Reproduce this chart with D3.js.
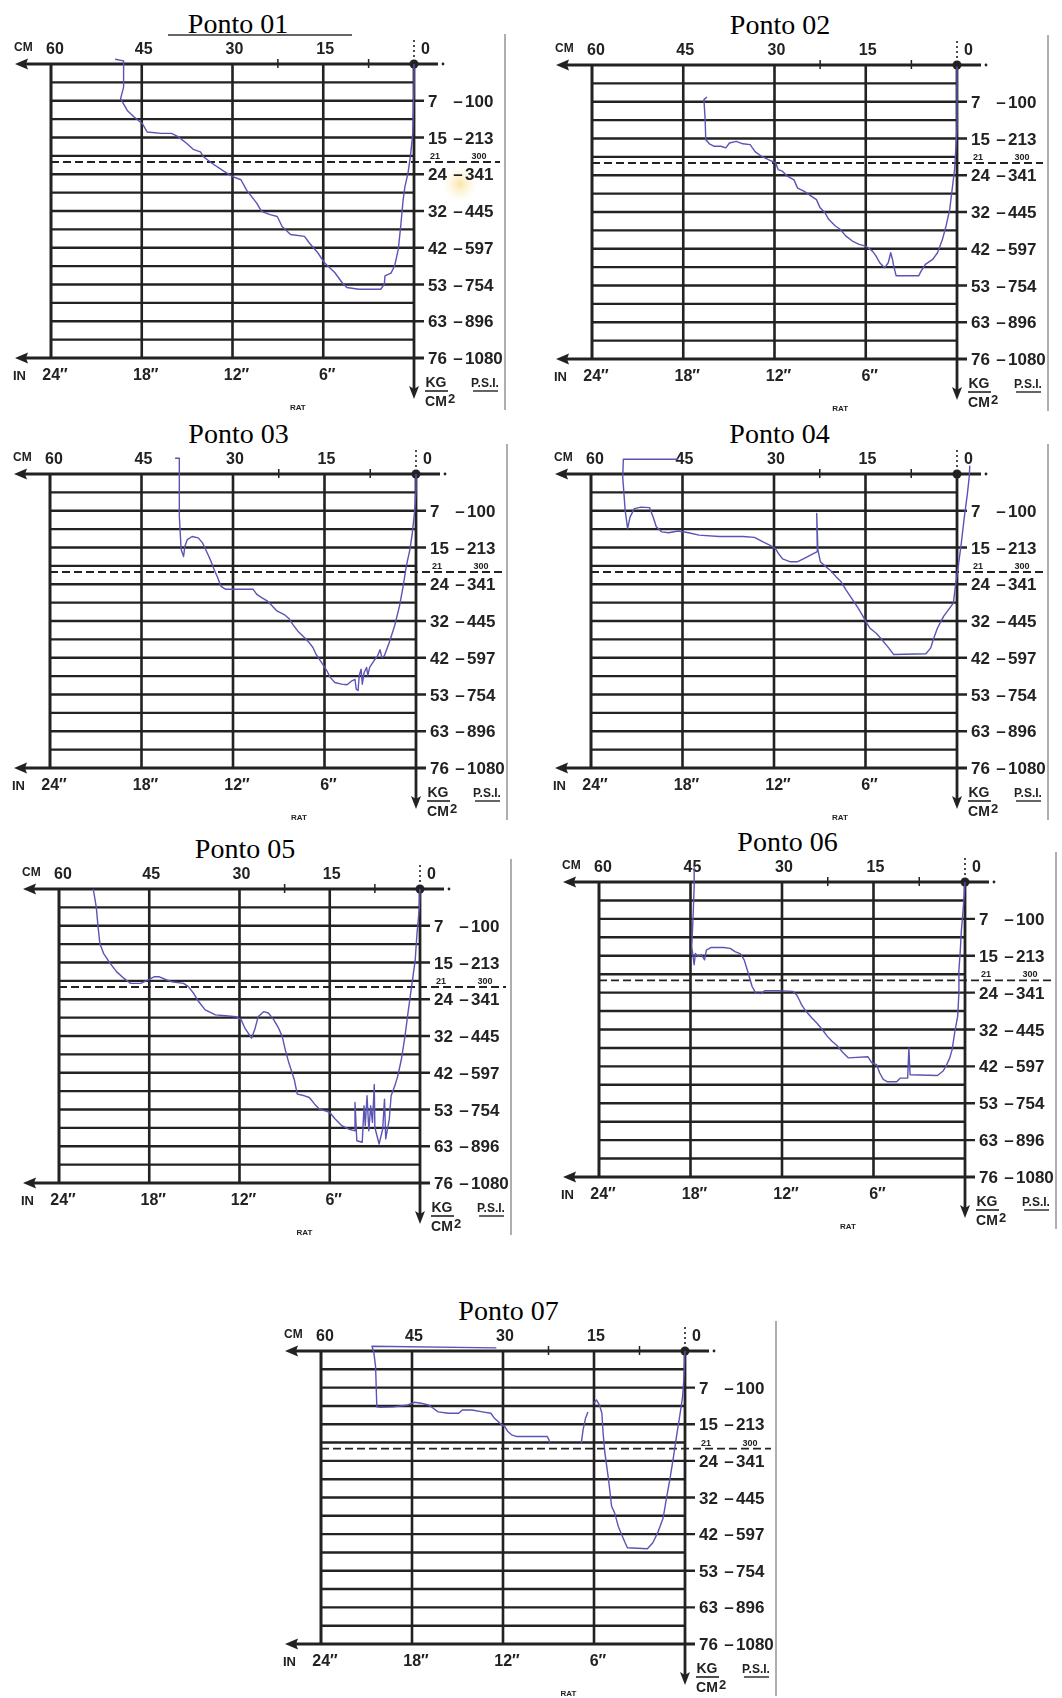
<!DOCTYPE html>
<html>
<head>
<meta charset="utf-8">
<script src="https://cdn.jsdelivr.net/npm/d3@7/dist/d3.min.js"></script>
<style>
	html, body { margin: 0; padding: 0; background: #fff; }
	svg { display: block; }
</style>
</head>
<body>
<div id="root"></div>
<script>
// pressure scale of the chart (kg/cm2) and the matching P.S.I. labels
const kgTicks = [7, 15, 24, 32, 42, 53, 63, 76];
const psiTicks = [100, 213, 341, 445, 597, 754, 896, 1080];
const kgLevels = [0, ...kgTicks];
const limitKg = 21;
const limitPsi = 300;

// depth axis (cm on top, inches below)
const cmTicks = [60, 45, 30, 15];
const inchTicks = ["24″", "18″", "12″", "6″"];
const minorCm = [22.5, 7.5];

const titles = ["Ponto 01", "Ponto 02", "Ponto 03", "Ponto 04", "Ponto 05", "Ponto 06", "Ponto 07"];

// traces: [depth cm, pressure kg/cm2], one array per pen stroke
const ponto01 = [[
	[49.4,-0.9],[48.0,-0.6],[48.0,4.4],[48.5,6.6],[47.4,9.1],[46.3,10.5],[44.9,12.0],[44.1,13.8],[41.8,14.1],[40.1,14.1],
	[39.0,14.8],[37.6,16.4],[36.5,17.9],[35.3,18.5],[34.8,19.7],[33.4,21.3],[31.7,23.0],[30.0,24.5],[28.6,25.2],[27.7,27.4],
	[26.0,30.3],[25.2,32.1],[23.8,33.0],[22.6,33.5],[21.8,36.2],[20.4,38.4],[18.1,38.9],[17.3,40.7],[15.9,43.5],[14.8,46.5],
	[13.1,49.4],[11.9,52.4],[11.1,53.8],[9.1,54.3],[5.5,54.3],[4.9,52.9],[4.8,50.4],[3.8,49.6],[3.2,47.4],[2.6,42.5],
	[2.2,36.2],[1.8,29.6],[1.5,26.7],[1.0,23.8],[0.6,19.7],[0.2,14.1],[0,3.8],[0,0]
]];

const ponto02 = [[
	[41.1,6.1],[41.6,6.6],[41.4,10.9],[41.3,15.3],[40.7,16.3],[39.9,16.9],[38.8,16.9],[38.0,17.3],[37.4,16.1],[36.3,15.7],
	[35.2,16.3],[34.0,16.5],[33.2,18.2],[32.1,19.4],[31.0,20.2],[29.8,21.0],[29.4,22.6],[28.7,23.0],[27.9,24.2],[26.8,25.0],
	[26.2,26.8],[25.1,27.5],[23.9,28.6],[23.1,29.3],[22.5,31.1],[21.7,32.2],[21.1,34.0],[20.0,35.8],[19.2,36.7],[18.3,38.5],
	[17.2,39.9],[16.1,40.8],[15.0,41.3],[13.9,42.7],[13.3,44.2],[12.7,46.2],[11.9,47.7],[11.3,46.2],[10.9,43.2],[10.6,45.2],
	[10.4,47.2],[10.0,50.1],[6.3,50.1],[5.9,48.7],[5.2,46.7],[4.0,45.2],[3.2,43.2],[2.4,39.5],[1.8,35.8],[1.2,31.5],
	[0.8,27.1],[0.4,22.6],[0.2,17.7],[0,12.4],[0,0.3]
]];

const ponto03 = [[
	[39.5,-3.0],[38.8,-3.0],[38.8,8.2],[38.5,15.5],[38.1,17.2],[37.9,14.8],[37.5,13.3],[36.7,12.6],[35.7,12.9],[35.0,14.0],
	[34.2,16.4],[33.6,18.4],[33.1,20.4],[32.5,22.4],[32.0,24.4],[31.2,25.1],[26.7,25.1],[26.1,26.2],[25.3,26.9],[24.4,27.6],
	[23.6,28.7],[22.8,29.8],[21.6,30.6],[20.8,31.5],[20.2,32.9],[19.4,34.7],[18.3,36.5],[17.5,37.9],[16.9,39.2],[16.4,41.0],
	[15.5,43.4],[14.6,45.9],[14.1,47.8],[13.3,49.4],[12.2,49.9],[11.3,50.1],[10.5,48.9],[10.0,48.5],[9.8,51.4],[9.5,51.8],
	[9.3,47.3],[9.0,45.4],[8.8,49.9],[8.5,46.4],[8.1,44.9],[7.9,47.3],[7.6,44.9],[6.9,42.9],[6.3,41.5],[5.9,39.8],
	[5.6,41.9],[5.2,41.5],[4.4,37.9],[3.5,33.3],[2.7,28.7],[2.1,24.4],[1.6,19.6],[1.0,15.5],[0.6,11.8],[0.2,6.8],
	[0,3.0],[0,0]
]];

const ponto04 = [[
	[45.7,-2.8],[54.7,-2.8],[54.8,0.6],[54.4,6.9],[54.0,10.9],[53.6,8.4],[52.9,6.6],[51.8,6.3],[50.4,6.4],[49.8,8.4],
	[49.3,10.5],[48.4,11.6],[47.3,11.8],[45.7,11.4],[44.0,11.8],[42.3,12.3],[39.0,12.6],[35.1,12.6],[33.2,12.8],[31.8,13.8],
	[30.7,14.5],[29.8,15.2],[29.3,16.4],[28.6,17.8],[27.3,18.5],[26.2,18.5],[25.1,17.7],[23.7,16.6],[22.9,16.0],[23.0,7.6],
	[22.8,15.6],[22.4,18.5],[21.5,19.7],[20.7,20.7],[19.8,22.2],[19.0,23.4],[18.2,25.2],[17.1,27.4],[16.2,29.2],[15.4,31.0],
	[14.8,32.6],[14.3,33.9],[13.2,35.4],[12.3,37.1],[11.2,39.3],[10.4,41.1],[5.1,40.9],[4.3,39.3],[3.9,37.1],[3.2,33.9],
	[2.2,31.0],[1.2,29.2],[0.6,28.1],[0.2,23.8],[-0.2,19.7],[-0.7,14.1],[-1.2,8.4],[-1.7,3.8],[-2.0,0.6],[-2.1,-1.6]
]];

const ponto05 = [[
	[54.3,0],[53.8,3.5],[53.5,7.3],[53.2,10.9],[52.6,13.0],[51.5,15.2],[50.4,17.3],[49.2,18.9],[48.1,20.1],[46.4,20.1],
	[45.3,19.3],[44.2,18.5],[43.3,18.5],[42.4,19.1],[41.3,19.7],[39.3,20.1],[38.5,20.9],[37.6,22.6],[36.8,24.5],[35.7,26.3],
	[34.0,27.4],[32.3,27.6],[30.6,27.8],[29.7,28.5],[29.1,30.3],[28.0,32.6],[27.4,30.3],[26.9,27.8],[26.0,26.7],[25.2,27.0],
	[24.3,28.5],[23.5,30.3],[22.9,32.1],[22.4,35.7],[21.8,39.3],[20.9,44.0],[20.4,48.4],[19.2,48.9],[18.4,49.4],[17.5,51.4],
	[16.7,52.9],[15.0,53.8],[14.1,55.6],[13.0,57.4],[11.9,58.3],[10.8,58.8],[10.8,50.9],[10.5,61.5],[9.6,61.9],[9.3,51.9],
	[9.1,57.4],[8.8,48.9],[8.5,58.8],[8.2,51.9],[7.9,56.5],[7.6,45.5],[7.5,57.9],[6.8,62.4],[6.2,58.3],[5.9,49.9],
	[5.7,61.0],[5.1,55.6],[4.8,48.9],[4.2,46.0],[3.7,43.0],[3.1,38.4],[2.5,32.1],[2.0,27.0],[1.4,20.9],[0.8,14.5],
	[0.5,8.7],[0.1,3.5],[0,0]
]];

const ponto06 = [[
	[44.4,-2.8],[44.4,0.9],[44.6,7.3],[44.8,13.0],[44.4,17.2],[44.2,14.5],[43.8,15.2],[43.2,14.8],[42.7,16.0],[42.4,13.8],
	[41.6,13.2],[39.6,13.2],[38.5,13.4],[37.7,14.1],[36.8,14.6],[36.2,16.0],[35.6,18.9],[34.9,22.5],[34.3,24.1],[33.4,24.2],
	[32.8,23.5],[30.7,23.5],[28.2,23.7],[27.6,24.5],[27.2,25.5],[26.8,26.6],[26.1,28.0],[25.1,29.5],[24.3,30.6],[23.4,32.0],
	[22.6,33.8],[21.8,35.2],[20.9,36.5],[20.1,38.1],[19.1,39.7],[15.9,39.4],[15.3,41.0],[14.5,41.5],[14.0,43.9],[13.4,45.9],
	[12.7,46.6],[11.2,46.6],[10.6,45.5],[9.4,45.5],[9.2,37.0],[9.0,44.5],[4.5,44.7],[3.6,43.4],[3.1,41.9],[2.5,39.7],
	[2.1,37.4],[1.7,32.9],[1.2,29.1],[1.0,24.1],[1.0,18.5],[0.8,14.5],[0.6,9.6],[0.4,6.6],[0.1,2.2],[0,0]
]];

const ponto07 = [
	[
		[31.1,-0.6],[51.6,-0.9],[51.3,0.2],[51.0,3.0],[50.8,11.2],[50.2,11.3],[48.0,11.2],[45.7,10.8],[44.6,10.2],[43.5,10.4],
		[42.3,10.8],[41.5,11.5],[40.7,12.3],[39.0,12.6],[37.3,12.6],[36.7,11.9],[35.1,11.9],[33.4,12.3],[32.0,12.6],[31.4,13.7],
		[30.5,14.8],[29.7,15.6],[29.2,16.8],[28.6,17.6],[27.8,18.0],[22.7,18.0],[22.4,18.9],[22.3,19.8]
	],
	[[17.1,19.7],[16.8,16.4],[16.4,13.7],[16.0,12.3]],
	[
		[15.0,10.4],[14.6,9.7],[14.1,10.8],[13.7,12.6],[13.5,17.2],[13.2,22.1],[12.6,28.1],[12.1,34.4],[11.6,36.2],[11.0,39.9],
		[10.1,43.6],[9.5,46.1],[6.2,46.4],[5.3,44.6],[4.5,41.6],[3.6,37.6],[3.1,32.6],[2.5,28.1],[1.9,23.0],[1.4,18.0],
		[0.8,12.6],[0.4,9.0],[0.2,5.6],[0,0]
	]
];

const traces = [ponto01, ponto02, ponto03, ponto04, ponto05, ponto06, ponto07];

// where each scanned sheet sits on the page
const frames = [
	{ left: 51,  right: 414, top: 64,   bottom: 358 },
	{ left: 592, right: 957, top: 65,   bottom: 359 },
	{ left: 50,  right: 416, top: 474,  bottom: 768 },
	{ left: 591, right: 957, top: 474,  bottom: 768 },
	{ left: 59,  right: 420, top: 889,  bottom: 1183 },
	{ left: 599, right: 965, top: 882,  bottom: 1177 },
	{ left: 321, right: 685, top: 1351, bottom: 1644 }
];

const ink = "#222";
const pen = "#5a54b4";
const sans = "'Liberation Sans', Arial, sans-serif";

const prepareContainer = () => {
	const svg = d3.select("#root")
		.append("svg")
			.attr("width", 1062)
			.attr("height", 1698);

	const defs = svg.append("defs");
	defs.append("filter")
		.attr("id", "soft")
		.append("feGaussianBlur")
			.attr("stdDeviation", 0.4);

	const stain = defs.append("radialGradient").attr("id", "stain");
	stain.append("stop").attr("offset", "0%").attr("stop-color", "#fbdf98").attr("stop-opacity", 0.85);
	stain.append("stop").attr("offset", "100%").attr("stop-color", "#fff3d6").attr("stop-opacity", 0);

	return svg;
};

const arrowHead = (tipX, tipY, dir) => {
	// dir: "left" or "down"
	if (dir === "left") return `M${tipX},${tipY} L${tipX + 13},${tipY - 5.5} L${tipX + 11},${tipY} L${tipX + 13},${tipY + 5.5} Z`;
	return `M${tipX},${tipY} L${tipX - 5},${tipY - 13} L${tipX},${tipY - 10} L${tipX + 5},${tipY - 13} Z`;
};

const renderPanel = (svg, frame, trace, title, i) => {
	const { left, right, top, bottom } = frame;
	const step = (bottom - top) / 8;

	const x = d3.scaleLinear().domain([60, 0]).range([left, right]);
	const y = d3.scaleLinear().domain(kgLevels).range(kgLevels.map((d, k) => top + k * step));

	// midway lines between the labelled pressures
	const minorKg = d3.pairs(kgLevels).map(([a, b]) => (a + b) / 2);
	const gridKg = [...minorKg, ...kgTicks.slice(0, -1)];

	svg.append("text")
		.attr("x", (left + right) / 2 + 5.5)
		.attr("y", top - 31)
		.attr("text-anchor", "middle")
		.style("font-family", "'Liberation Serif', 'Times New Roman', serif")
		.style("font-size", "28px")
		.style("fill", "#000")
		.text(title);

	svg.select("defs")
		.append("clipPath")
			.attr("id", `sheet${i}`)
		.append("rect")
			.attr("x", left - 50)
			.attr("y", top - 30)
			.attr("width", right - left + 146)
			.attr("height", bottom - top + 84);

	const sheet = svg.append("g")
		.attr("clip-path", `url(#sheet${i})`)
		.append("g")
			.attr("filter", "url(#soft)");

	// scanner edge on the right of the sheet
	sheet.append("line")
		.attr("x1", right + 91).attr("y1", top - 30)
		.attr("x2", right + 91).attr("y2", bottom + 52)
		.style("stroke", "#9a9a9a")
		.style("stroke-width", 1.6);

	if (i === 0) {
		sheet.append("circle")
			.attr("cx", right + 46).attr("cy", y(24) + 10)
			.attr("r", 18)
			.style("fill", "url(#stain)");
	}

	// horizontal grid
	sheet.selectAll(".hgrid")
		.data(gridKg)
		.enter()
		.append("line")
			.attr("class", "hgrid")
			.attr("x1", left)
			.attr("x2", d => kgTicks.includes(d) ? right + 10 : right)
			.attr("y1", d => y(d))
			.attr("y2", d => y(d))
			.style("stroke", ink)
			.style("stroke-width", 2.4);

	// limit line
	sheet.append("line")
		.attr("x1", left).attr("x2", right + 86)
		.attr("y1", y(limitKg)).attr("y2", y(limitKg))
		.style("stroke", ink)
		.style("stroke-width", 1.9)
		.style("stroke-dasharray", "8,4");

	// vertical grid
	sheet.selectAll(".vgrid")
		.data(cmTicks.slice(1))
		.enter()
		.append("line")
			.attr("class", "vgrid")
			.attr("x1", d => x(d)).attr("x2", d => x(d))
			.attr("y1", top).attr("y2", bottom)
			.style("stroke", ink)
			.style("stroke-width", 2.6);

	sheet.append("line")
		.attr("x1", x(60)).attr("x2", x(60))
		.attr("y1", top).attr("y2", bottom)
		.style("stroke", ink)
		.style("stroke-width", 3);

	// top and bottom axes with arrows pointing left
	[[0, right + 24], [76, right + 10]].forEach(([kg, end]) => {
		sheet.append("line")
			.attr("x1", left - 30).attr("x2", end)
			.attr("y1", y(kg)).attr("y2", y(kg))
			.style("stroke", ink)
			.style("stroke-width", 3.2);
		sheet.append("path")
			.attr("d", arrowHead(left - 36, y(kg), "left"))
			.style("fill", ink);
	});

	sheet.append("circle")
		.attr("cx", right + 29).attr("cy", y(0))
		.attr("r", 1.4)
		.style("fill", ink);

	sheet.selectAll(".minor")
		.data(minorCm)
		.enter()
		.append("line")
			.attr("class", "minor")
			.attr("x1", d => x(d)).attr("x2", d => x(d))
			.attr("y1", top - 5).attr("y2", top + 4)
			.style("stroke", ink)
			.style("stroke-width", 1.5);

	// right axis pointing down
	sheet.append("line")
		.attr("x1", right).attr("x2", right)
		.attr("y1", top).attr("y2", bottom + 32)
		.style("stroke", ink)
		.style("stroke-width", 2.8);
	sheet.append("line")
		.attr("x1", right).attr("x2", right)
		.attr("y1", top - 24).attr("y2", top - 4)
		.style("stroke", ink)
		.style("stroke-width", 1.6)
		.style("stroke-dasharray", "2,3");
	sheet.append("path")
		.attr("d", arrowHead(right, bottom + 41, "down"))
		.style("fill", ink);
	sheet.append("circle")
		.attr("cx", right).attr("cy", top)
		.attr("r", 4.5)
		.style("fill", ink);

	// depth labels
	sheet.selectAll(".cm")
		.data(cmTicks)
		.enter()
		.append("text")
			.attr("class", "cm")
			.attr("x", d => x(d) + (d === 60 ? 4 : 2))
			.attr("y", top - 10)
			.attr("text-anchor", "middle")
			.style("font-size", "16px")
			.text(d => d);

	sheet.append("text")
		.attr("x", right + 7)
		.attr("y", top - 10)
		.style("font-size", "16px")
		.text("0");

	sheet.append("text")
		.attr("x", left - 37)
		.attr("y", top - 13)
		.style("font-size", "12px")
		.text("CM");

	sheet.selectAll(".inch")
		.data(inchTicks)
		.enter()
		.append("text")
			.attr("class", "inch")
			.attr("x", (d, k) => x(cmTicks[k]) + 4)
			.attr("y", bottom + 22)
			.attr("text-anchor", "middle")
			.style("font-size", "16px")
			.text(d => d);

	sheet.append("text")
		.attr("x", left - 38)
		.attr("y", bottom + 22)
		.style("font-size", "13px")
		.text("IN");

	// pressure labels
	const rows = sheet.selectAll(".kg")
		.data(kgTicks)
		.enter()
		.append("g")
			.attr("class", "kg")
			.attr("transform", d => `translate(${right}, ${y(d) + 6})`);

	rows.append("text")
		.attr("x", 14)
		.style("font-size", "17px")
		.text(d => d);
	rows.append("text")
		.attr("x", 44)
		.attr("text-anchor", "middle")
		.style("font-size", "17px")
		.text("–");
	rows.append("text")
		.attr("x", 51)
		.style("font-size", "17px")
		.text((d, k) => psiTicks[k]);

	sheet.append("text")
		.attr("x", right + 21).attr("y", y(limitKg) - 3)
		.attr("text-anchor", "middle")
		.style("font-size", "9px")
		.text(limitKg);
	sheet.append("text")
		.attr("x", right + 65).attr("y", y(limitKg) - 3)
		.attr("text-anchor", "middle")
		.style("font-size", "9px")
		.text(limitPsi);

	// units under the right axis
	sheet.append("text")
		.attr("x", right + 22).attr("y", bottom + 29)
		.attr("text-anchor", "middle")
		.style("font-size", "14px")
		.text("KG");
	sheet.append("line")
		.attr("x1", right + 11).attr("x2", right + 34)
		.attr("y1", bottom + 33).attr("y2", bottom + 33)
		.style("stroke", ink)
		.style("stroke-width", 1.6);
	sheet.append("text")
		.attr("x", right + 22).attr("y", bottom + 48)
		.attr("text-anchor", "middle")
		.style("font-size", "14px")
		.text("CM");
	sheet.append("text")
		.attr("x", right + 34).attr("y", bottom + 45)
		.style("font-size", "13px")
		.text("2");
	sheet.append("text")
		.attr("x", right + 71).attr("y", bottom + 29)
		.attr("text-anchor", "middle")
		.style("font-size", "12px")
		.text("P.S.I.");
	sheet.append("line")
		.attr("x1", right + 59).attr("x2", right + 84)
		.attr("y1", bottom + 33).attr("y2", bottom + 33)
		.style("stroke", ink)
		.style("stroke-width", 1.4);
	sheet.append("text")
		.attr("x", left + 0.68 * (right - left)).attr("y", bottom + 52)
		.attr("text-anchor", "middle")
		.style("font-size", "8px")
		.text("RAT");

	sheet.selectAll("text")
		.style("font-family", sans)
		.style("font-weight", "bold")
		.style("fill", ink);

	// recorded trace
	const line = d3.line()
		.x(d => x(d[0]))
		.y(d => y(d[1]));

	sheet.selectAll(".trace")
		.data(trace)
		.enter()
		.append("path")
			.attr("class", "trace")
			.attr("d", line)
			.style("fill", "none")
			.style("stroke", pen)
			.style("stroke-width", 1.4)
			.style("stroke-linejoin", "round");
};

const makeFigure = () => {
	const svg = prepareContainer();

	// top edge of the first scanned sheet
	svg.append("line")
		.attr("x1", frames[0].left + 117).attr("x2", frames[0].left + 301)
		.attr("y1", frames[0].top - 29).attr("y2", frames[0].top - 29)
		.style("stroke", "#333")
		.style("stroke-width", 1.3);

	frames.forEach((frame, i) => renderPanel(svg, frame, traces[i], titles[i], i));
};

makeFigure();
</script>
</body>
</html>
